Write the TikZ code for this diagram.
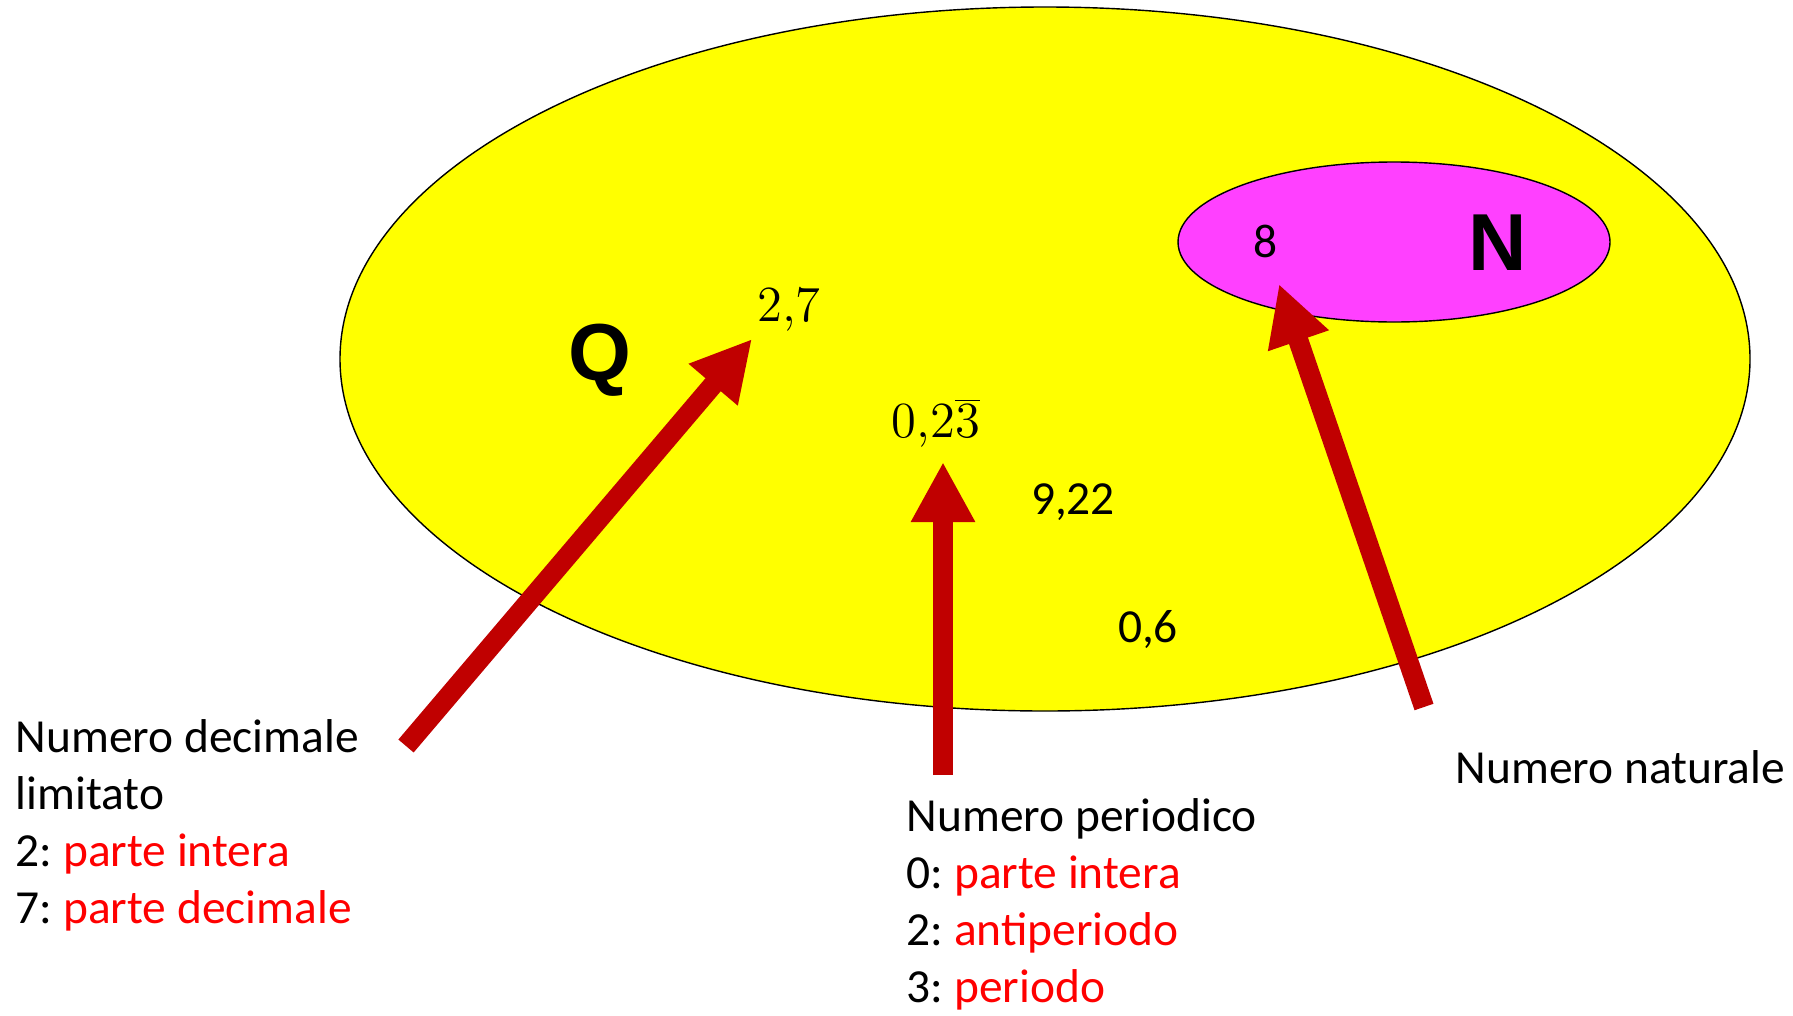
\documentclass[tikz,border=0pt]{standalone}
\usepackage{fontspec}
\setmainfont{Carlito}
\newfontfamily\insiemefont{Liberation Sans}
\usetikzlibrary{arrows.meta}
\definecolor{giallo}{RGB}{255,255,0}
\definecolor{fucsia}{RGB}{255,64,255}
\definecolor{rossoscuro}{RGB}{192,0,0}
\definecolor{rosso}{RGB}{255,0,0}
\frenchspacing

\begin{document}
\begin{tikzpicture}[
    freccia/.style={draw=rossoscuro, line width=0.2cm, -{Triangle[width=0.6cm,length=0.6cm]}},
    numero/.style={font=\fontsize{13.5}{16}\selectfont, inner sep=0pt},
    insieme/.style={font=\insiemefont\bfseries\fontsize{23}{27}\selectfont, inner sep=0pt},
    spiega/.style={font=\fontsize{13.5}{16.2}\selectfont, align=left, inner sep=0pt, anchor=base west}
]
    \useasboundingbox (0,0) rectangle (17.93,10.15);

    % insieme Q
    \draw[fill=giallo, thin] (10.45, 6.56) ellipse (7.05 and 3.52);
    \node[insieme] (Q) at (6.00, 6.55) {Q};

    % insieme N
    \draw[fill=fucsia, thin] (13.94, 7.73) ellipse (2.16 and 0.80);
    \node[insieme] (N) at (14.98, 7.72) {N};

    % numeri
    \node[numero] (otto) at (12.66, 7.74) {8};
    \node[numero] (duesette) at (7.89, 7.05) {$2{,}7$};
    \node[numero] (periodico) at (9.36, 5.92) {$0{,}2\overline{3}$};
    \node[numero] (noveventidue) at (10.73, 5.13) {9,22};
    \node[numero] (zerosei) at (11.48, 3.85) {0,6};

    % spiegazioni (base = ultima riga)
    \node[spiega] (limitato) at (0.15, 0.92) {Numero decimale\\limitato\\2: \textcolor{rosso}{parte intera}\\7: \textcolor{rosso}{parte decimale}};
    \node[spiega] (nperiodico) at (9.06, 0.13) {Numero periodico\\0: \textcolor{rosso}{parte intera}\\2: \textcolor{rosso}{antiperiodo}\\3: \textcolor{rosso}{periodo}};
    \node[spiega] (naturale) at (14.55, 2.32) {Numero naturale};

    % frecce
    \coordinate (codaA) at (4.06, 2.69);
    \coordinate (puntaA) at (7.52, 6.76);
    \coordinate (codaB) at (9.43, 2.40);
    \coordinate (puntaB) at (9.43, 5.53);
    \coordinate (codaC) at (14.24, 3.08);
    \coordinate (puntaC) at (12.79, 7.31);
    \draw[freccia] (codaA) -- (puntaA);
    \draw[freccia] (codaB) -- (puntaB);
    \draw[freccia] (codaC) -- (puntaC);
\end{tikzpicture}
\end{document}
